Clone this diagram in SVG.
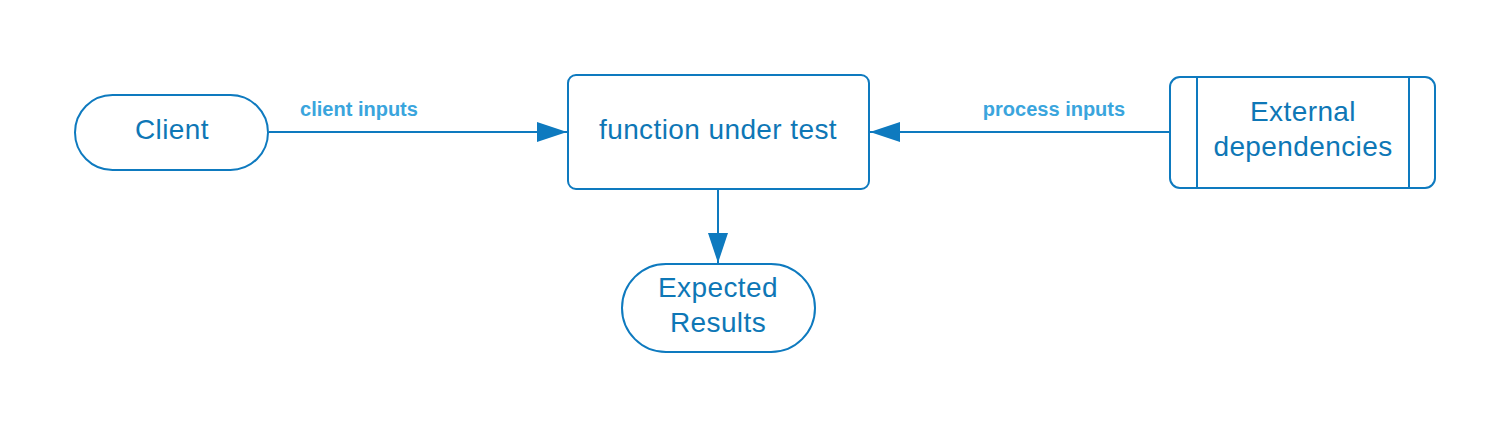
<svg xmlns="http://www.w3.org/2000/svg" width="1511" height="428" viewBox="0 0 1511 428">
<style>
.n{fill:#fff;stroke:#0e7abf;stroke-width:2}
.t{font-family:"Liberation Sans",Arial,sans-serif;font-size:28px;letter-spacing:0.4px;fill:#0e77b6;text-anchor:middle}
.l{font-family:"Liberation Sans",Arial,sans-serif;font-size:20px;font-weight:bold;fill:#3aa5dd;text-anchor:middle}
.c{stroke:#0e7abf;stroke-width:2;fill:none}
</style>
<defs>
<marker id="a" markerWidth="30" markerHeight="20" refX="30" refY="10" orient="auto" markerUnits="userSpaceOnUse">
<path d="M0,0 L30,10 L0,20 Z" fill="#0e7abf"/>
</marker>
</defs>
<rect width="1511" height="428" fill="#fff"/>
<g id="connectors">
<line class="c" x1="269" y1="132" x2="567" y2="132" marker-end="url(#a)"/>
<line class="c" x1="1170" y1="132" x2="870" y2="132" marker-end="url(#a)"/>
<line class="c" x1="718" y1="189" x2="718" y2="263" marker-end="url(#a)"/>
<text class="l" x="359" y="116">client inputs</text>
<text class="l" x="1054" y="116">process inputs</text>
</g>
<g id="client">
<rect class="n" x="75" y="95" width="193" height="75" rx="37.5"/>
<text class="t" x="172" y="139">Client</text>
</g>
<g id="function">
<rect class="n" x="568" y="75" width="301" height="114" rx="8"/>
<text class="t" x="718" y="139">function under test</text>
</g>
<g id="external">
<rect class="n" x="1170" y="77" width="265" height="111" rx="10"/>
<line class="c" x1="1197" y1="77" x2="1197" y2="188"/>
<line class="c" x1="1409" y1="77" x2="1409" y2="188"/>
<text class="t" x="1303" y="121">External</text>
<text class="t" x="1303" y="156">dependencies</text>
</g>
<g id="expected">
<rect class="n" x="622" y="264" width="193" height="88" rx="44"/>
<text class="t" x="718" y="297">Expected</text>
<text class="t" x="718" y="332">Results</text>
</g>
</svg>
